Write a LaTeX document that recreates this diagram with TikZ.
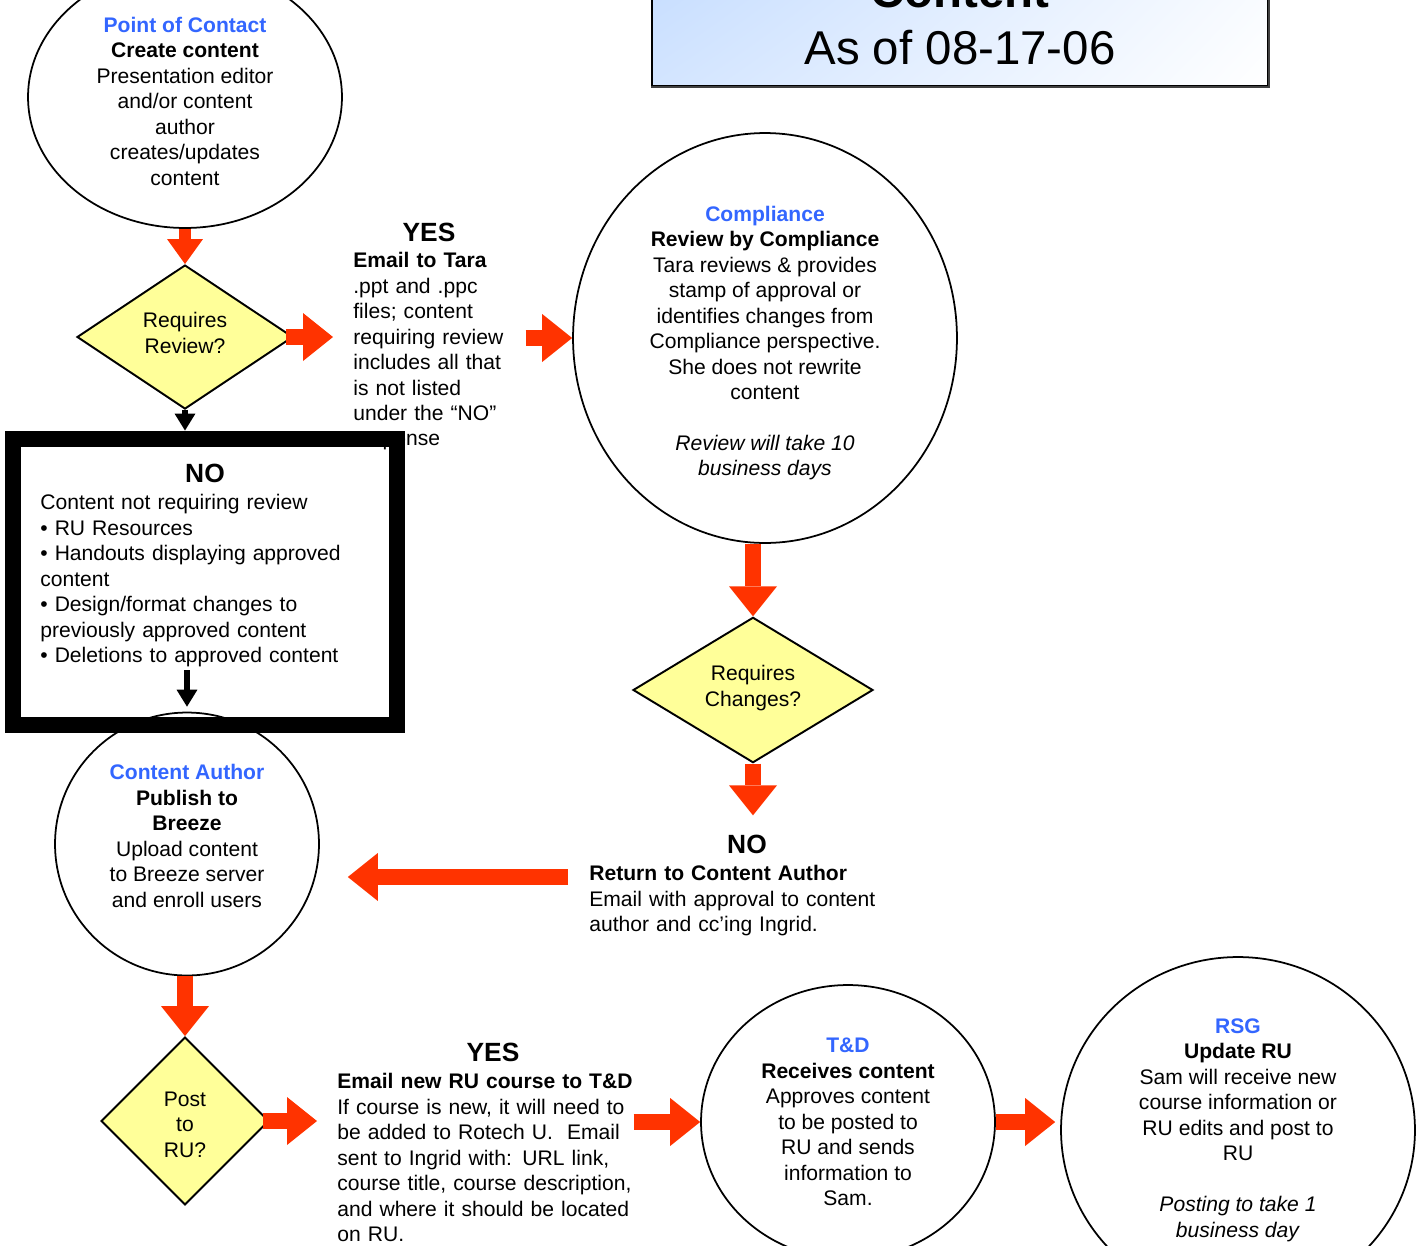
\documentclass[tikz,border=0pt]{standalone}
\usepackage{fontspec}
\setmainfont{Liberation Sans}
\usetikzlibrary{calc,arrows.meta,shapes.geometric,shadings}
\definecolor{flowred}{HTML}{FF3300}
\definecolor{roleblue}{HTML}{3366FF}
\definecolor{askyellow}{HTML}{FFFF99}
\definecolor{titleblue}{HTML}{C4DCFF}

\begin{document}
\begin{tikzpicture}[
        x=0.02cm, y=-0.02cm,
        txt/.style={font=\fontsize{12}{14.5}\selectfont, inner sep=0pt},
        role/.style={txt, draw, line width=1pt, ellipse, fill=white, align=center},
        ask/.style={txt, draw, line width=1.1pt, diamond, fill=askyellow, align=center},
        bigword/.style={font=\fontsize{15}{18}\selectfont\bfseries, inner sep=0pt},
        note/.style={txt, align=left, anchor=north west},
        titlebox/.style={draw, line width=0.8pt, upper left=titleblue, lower left=titleblue!75!white,
            upper right=titleblue!15!white, lower right=white, align=center,
            font=\fontsize{27}{32.3}\selectfont, minimum width=12.32cm, minimum height=2.64cm},
        listbox/.style={draw, line width=0.32cm, minimum width=7.68cm, minimum height=5.74cm},
        flow/.style={flowred, line width=0.32cm, -{Triangle[length=0.6cm, width=0.96cm, line width=0pt]}},
        flowsmall/.style={flowred, line width=0.24cm, -{Triangle[length=0.5cm, width=0.72cm, line width=0pt]}},
        down/.style={black, line width=0.12cm, -{Triangle[length=0.34cm, width=0.42cm, line width=0pt]}}
    ]
        \useasboundingbox (0,0) rectangle (1424,1245);

        % Titel
        \node[titlebox] (title) at (960,20) {{\bfseries Content}\\As of 08-17-06};
        \draw[line width=1.2pt, gray!50!black] (title.south west) -- (title.south east) -- (title.north east);

        % Erste Reihe
        \node[role, minimum width=6.28cm, minimum height=5.24cm] (poc) at (185,97)
            {\rule{0pt}{0.47cm}{\bfseries\color{roleblue}Point of Contact}\\\textbf{Create content}\\Presentation editor\\and/or content\\author\\creates/updates\\content};
        \node[ask, minimum width=4.32cm, minimum height=2.88cm] (review) at (185,337)
            {Requires\\Review?\rule[-0.16cm]{0pt}{0.16cm}};

        \node[bigword] (yes1) at (429,232) {YES};
        \node[note, text width=3.04cm] (yes1txt) at (353,252)
            {\textbf{Email to Tara}\\.ppt and .ppc\\files; content\\requiring review\\includes all that\\is not listed\\under the “NO”\\response};

        \node[role, minimum width=7.68cm, minimum height=8.2cm] (compl) at (765,338)
            {\rule{0pt}{0.51cm}{\bfseries\color{roleblue}Compliance}\\\textbf{Review by Compliance}\\Tara reviews \& provides\\stamp of approval or\\identifies changes from\\Compliance perspective.\\She does not rewrite\\content\\[14.5pt]\textit{Review will take 10}\\\textit{business days}};
        \node[ask, minimum width=4.8cm, minimum height=2.88cm] (changes) at (753,690)
            {Requires\\Changes?\rule[-0.17cm]{0pt}{0.17cm}};

        \node[bigword] (no2) at (747,844) {NO};
        \node[note, text width=5.8cm] (ret) at (589,865)
            {\textbf{Return to Content Author}\\Email with approval to content\\author and cc’ing Ingrid.};

        % Veroeffentlichen
        \node[role, minimum width=5.28cm, minimum height=5.26cm] (author) at (187,844)
            {{\bfseries\color{roleblue}Content Author}\\\textbf{Publish to}\\\textbf{Breeze}\\Upload content\\to Breeze server\\and enroll users\rule[-0.32cm]{0pt}{0.32cm}};

        \node[listbox] (nolist) at (205,582) {};
        \node[bigword] (no1) at (205,473) {NO};
        \node[note, text width=6.6cm] (no1txt) at (40,494)
            {Content not requiring review\\• RU Resources\\• Handouts displaying approved\\content\\• Design/format changes to\\previously approved content\\• Deletions to approved content};

        % Letzte Reihe
        \node[ask, minimum width=3.36cm, minimum height=3.36cm] (post) at (185,1121)
            {\rule{0pt}{0.43cm}Post\\to\\RU?};

        \node[bigword] (yes2) at (493,1052) {YES};
        \node[note, text width=5.92cm] (yes2txt) at (337,1073)
            {\textbf{Email new RU course to T\&D}\\If course is new, it will need to\\be added to Rotech U.\ \ Email\\sent to Ingrid with: URL link,\\course title, course description,\\and where it should be located\\on RU.};

        \node[role, minimum width=5.88cm, minimum height=5.48cm] (td) at (848,1122)
            {{\bfseries\color{roleblue}T\&D}\\\textbf{Receives content}\\Approves content\\to be posted to\\RU and sends\\information to\\Sam.};
        \node[role, minimum width=7.08cm, minimum height=6.92cm] (rsg) at (1238,1130)
            {{\bfseries\color{roleblue}RSG}\\\textbf{Update RU}\\Sam will receive new\\course information or\\RU edits and post to\\RU\\[14.5pt]\textit{Posting to take 1}\\\textit{business day}};

        % Pfeile
        \coordinate (retin) at (568,877);
        \draw[flowsmall] (poc.south) -- (review.north);
        \draw[flow] ([xshift=-0.16cm]review.east) -- ([xshift=-0.4cm]review.east -| yes1txt.west);
        \draw[flow] ([xshift=0.4cm]yes1txt.east |- compl.west) -- (compl.west);
        \draw[flow] (changes.north |- compl.south) -- (changes.north);
        \draw[flow] (changes.south) -- ([yshift=0.38cm]changes.south |- no2.north);
        \draw[flow] (retin) -- ([xshift=0.56cm]author.east |- retin);
        \draw[down] (review.south) -- (review.south |- nolist.north);
        \draw[down, shorten <=0.06cm, shorten >=0.1cm] (author.north |- no1txt.south) -- (author.north);
        \draw[flow] (post.north |- author.south) -- (post.north);
        \draw[flow] ([xshift=-0.14cm]post.east) -- ([xshift=-0.4cm]post.east -| yes2txt.west);
        \draw[flow] (yes2txt.east |- td.west) -- (td.west);
        \draw[flow, shorten >=0.1cm] (td.east) -- (td.east -| rsg.west);

    \end{tikzpicture}
\end{document}
